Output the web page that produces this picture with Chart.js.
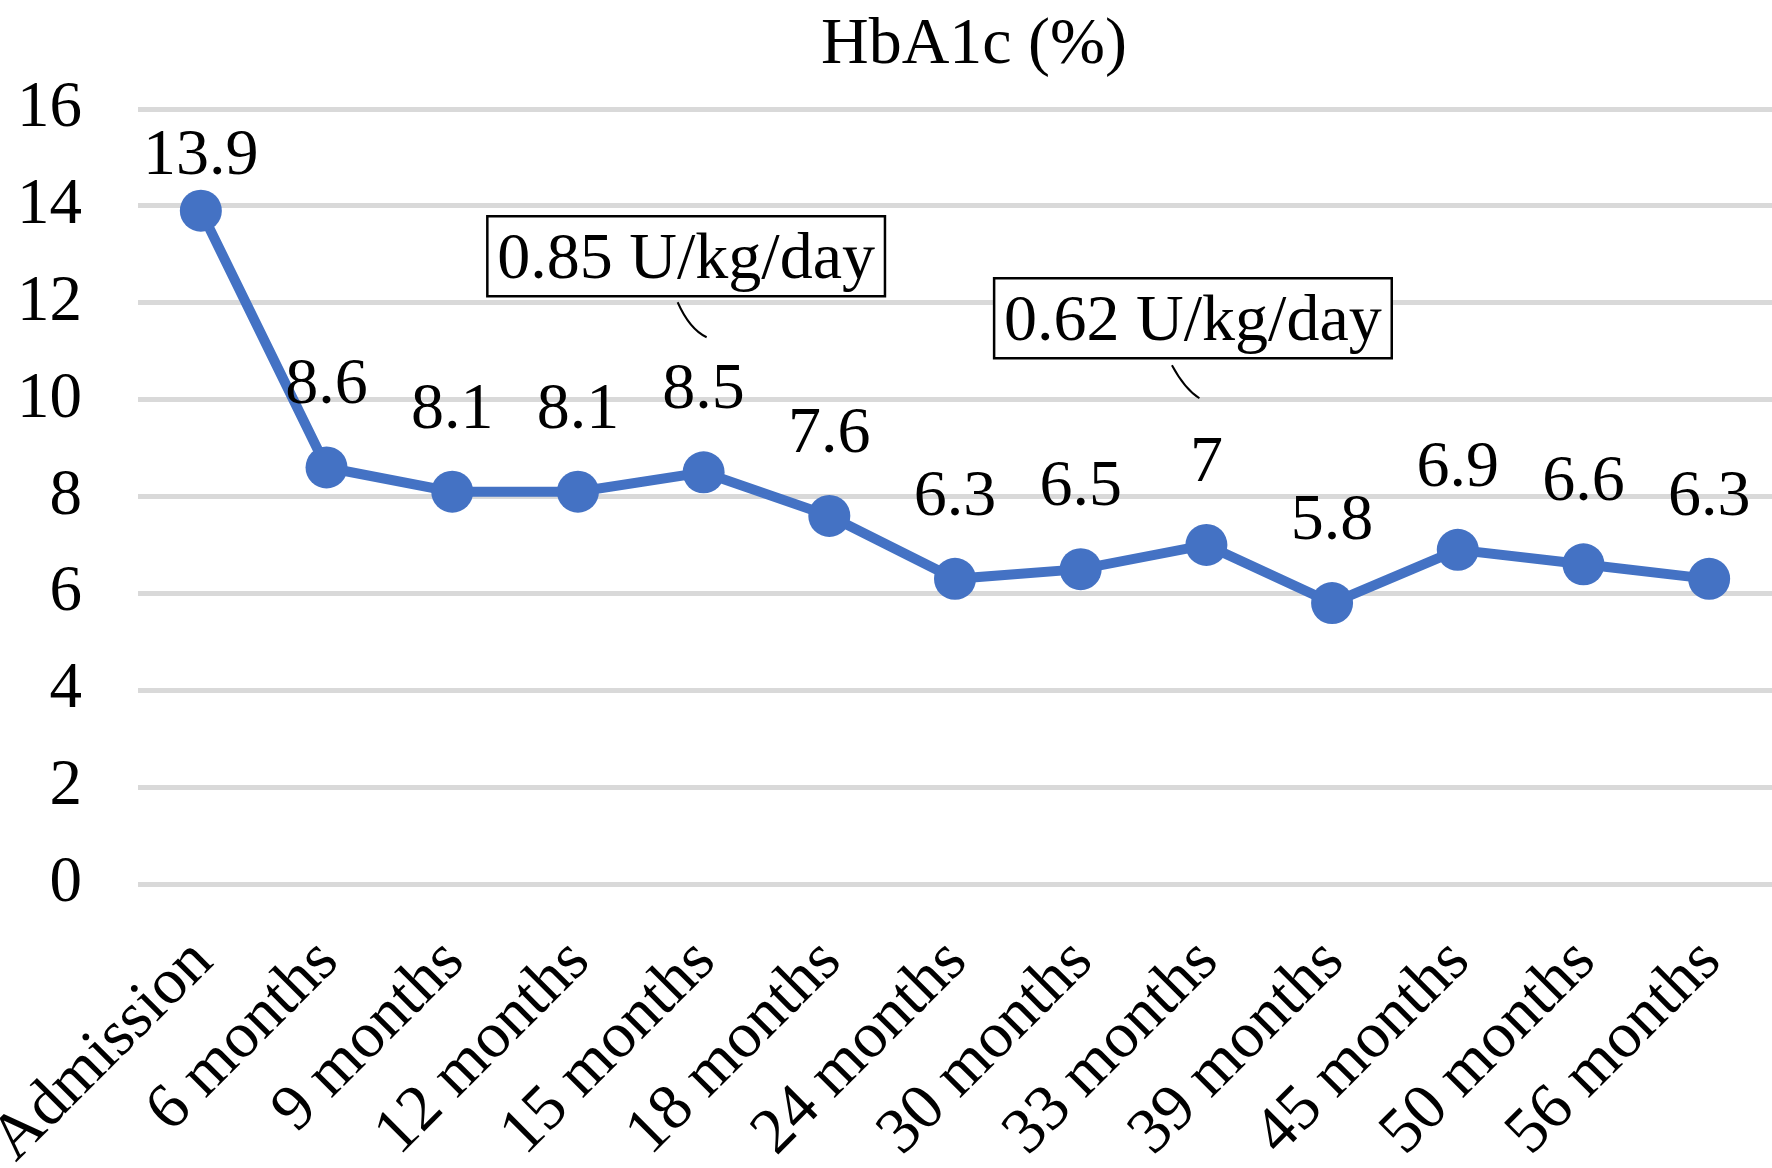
<!DOCTYPE html>
<html>
<head>
<meta charset="utf-8">
<script src="https://cdn.jsdelivr.net/npm/chart.js@4/dist/chart.umd.min.js"></script>
<style>
html,body{margin:0;padding:0;background:#ffffff;}
#wrap{width:1772px;height:1168px;position:relative;}
canvas{display:block;}
</style>
</head>
<body>
<div id="wrap"><canvas id="c" width="1772" height="1168" style="width:1772px;height:1168px"></canvas></div>
<script>
// ---- data ----
const chartTitle = 'HbA1c (%)';
const categories = ['Admission','6 months','9 months','12 months','15 months','18 months','24 months','30 months','33 months','39 months','45 months','50 months','56 months'];
const hba1cValues = [13.9, 8.6, 8.1, 8.1, 8.5, 7.6, 6.3, 6.5, 7, 5.8, 6.9, 6.6, 6.3];
const yTickValues = [0, 2, 4, 6, 8, 10, 12, 14, 16];
const doseNotes = ['0.85 U/kg/day', '0.62 U/kg/day'];

// ---- styling ----
const FONT = '"Liberation Serif","Times New Roman",Times,serif';
const BLUE = '#4472C4';

const overlayPlugin = {
  id: 'overlay',
  afterDatasetsDraw(chart, args, opts) {
    const ctx = chart.ctx;
    const meta = chart.getDatasetMeta(0);
    const xs = chart.scales.x, ys = chart.scales.y;
    ctx.save();
    // data labels
    ctx.font = opts.labelSize + 'px ' + FONT;
    ctx.fillStyle = '#000';
    ctx.textAlign = 'center';
    ctx.textBaseline = 'alphabetic';
    meta.data.forEach((pt, i) => {
      const gap = i === 0 ? opts.firstLabelGap : opts.labelGap;
      ctx.fillText(String(hba1cValues[i]), pt.x, pt.y - gap);
    });
    // dose callouts
    opts.notes.forEach((n, k) => {
      const cx = xs.getPixelForValue(n.boxX);
      const cy = ys.getPixelForValue(n.boxY);
      ctx.font = opts.noteSize + 'px ' + FONT;
      const w = ctx.measureText(doseNotes[k]).width + 2 * opts.notePadX;
      const h = opts.noteHeight;
      ctx.fillStyle = '#fff';
      ctx.fillRect(cx - w / 2, cy - h / 2, w, h);
      ctx.strokeStyle = '#000';
      ctx.lineWidth = 2.5;
      ctx.strokeRect(cx - w / 2, cy - h / 2, w, h);
      ctx.fillStyle = '#000';
      ctx.textAlign = 'center';
      ctx.textBaseline = 'alphabetic';
      ctx.fillText(doseNotes[k], cx, cy + opts.noteBaseline);
      // leader line
      const bx = cx, by = cy + h / 2;
      ctx.beginPath();
      ctx.lineWidth = 2;
      ctx.moveTo(bx + n.leader[0], by + n.leader[1]);
      ctx.quadraticCurveTo(bx + n.leader[2], by + n.leader[3], bx + n.leader[4], by + n.leader[5]);
      ctx.stroke();
    });
    // title
    ctx.font = opts.titleSize + 'px ' + FONT;
    ctx.textAlign = 'center';
    ctx.textBaseline = 'alphabetic';
    ctx.fillStyle = '#000';
    ctx.fillText(chartTitle, opts.titleX, opts.titleY);
    ctx.restore();
  }
};

new Chart(document.getElementById('c'), {
  type: 'line',
  data: {
    labels: categories,
    datasets: [{
      label: chartTitle,
      data: hba1cValues,
      borderColor: BLUE,
      backgroundColor: BLUE,
      borderWidth: 10,
      pointRadius: 21,
      pointBackgroundColor: BLUE,
      pointBorderColor: BLUE,
      pointBorderWidth: 0,
      tension: 0,
      fill: false,
      clip: false
    }]
  },
  options: {
    responsive: false,
    animation: false,
    devicePixelRatio: 1,
    layout: { autoPadding: false, padding: { top: 109, left: 0, right: 0, bottom: 0 } },
    plugins: {
      legend: { display: false },
      title: { display: false },
      tooltip: { enabled: false },
      overlay: {
        labelSize: 66,
        labelGap: 64,
        firstLabelGap: 37,
        noteSize: 66,
        notePadX: 10,
        noteHeight: 80,
        noteBaseline: 22,
        titleSize: 66,
        titleX: 974,
        titleY: 63,
        notes: [
          { boxX: 3.861, boxY: 12.96, leader: [-8.5, 6, 3.5, 33, 20.5, 41] },
          { boxX: 7.893, boxY: 11.68, leader: [-21, 7, -8, 31, 6.5, 40] }
        ]
      }
    },
    scales: {
      x: {
        type: 'category',
        offset: true,
        grid: { display: false, drawTicks: false },
        border: { display: false },
        ticks: {
          autoSkip: false,
          minRotation: 45,
          maxRotation: 45,
          padding: 40,
          labelOffset: 2,
          color: '#000',
          font: { family: FONT, size: 65 }
        },
        afterFit(scale) {
          scale.height = 284;
          scale.paddingLeft = 0;
          scale.paddingRight = 0;
        }
      },
      y: {
        min: 0,
        max: 16,
        grid: { color: '#d9d9d9', lineWidth: 5, drawTicks: false },
        border: { display: false },
        ticks: {
          padding: 56,
          color: '#000',
          font: { family: FONT, size: 65 }
        },
        afterBuildTicks(scale) {
          scale.ticks = yTickValues.map(v => ({ value: v }));
        },
        afterFit(scale) {
          scale.width = 138;
          scale.paddingTop = 0;
          scale.paddingBottom = 0;
        }
      }
    }
  },
  plugins: [overlayPlugin]
});
</script>
</body>
</html>
